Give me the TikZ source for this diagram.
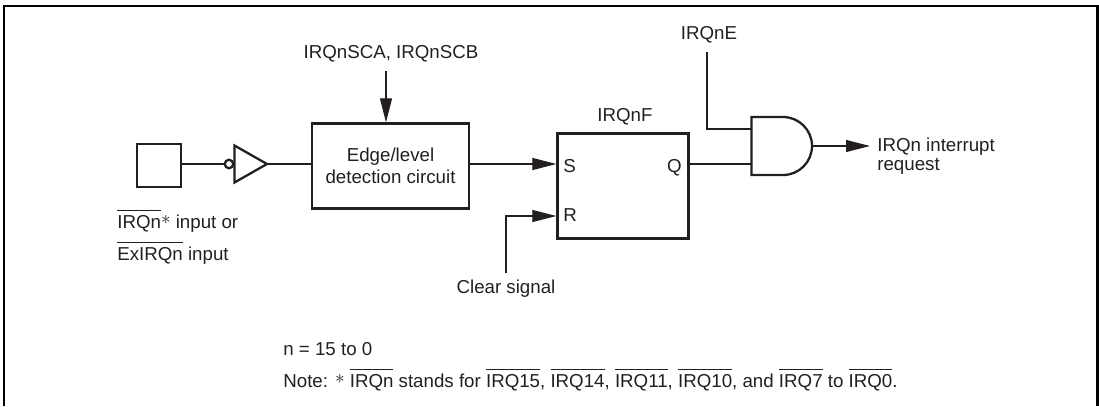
\documentclass[tikz,border=0pt]{standalone}
\usepackage{fontspec}
\setmainfont{Liberation Sans}
\usetikzlibrary{arrows.meta, positioning, calc, shapes.geometric}
\definecolor{irqink}{HTML}{231F20}
\newcommand{\ovl}[1]{$\overline{\hbox{\rule{0pt}{8.4pt}#1}}$}
\newcommand{\astr}{\raisebox{2pt}{$\ast$}}
\tikzset{
  blockbox/.style={draw=irqink, line width=1.3pt, inner sep=0pt},
  wire/.style={draw=irqink, line width=.6pt},
  sigarrow/.style={wire, -{Triangle[length=.48cm, width=.24cm]}},
  lbl/.style={font=\fontsize{10.65}{12.5}\selectfont, text=irqink, inner sep=0pt}
}
\begin{document}
\begin{tikzpicture}[x=.02cm, y=-.02cm]
      \useasboundingbox (0,0) rectangle (1099,406);
      % frame
      \draw[black, line width=1.25pt] (4.2,406)--(4.2,5.8)--(1097.5,5.8)--(1097.5,406);
      % blocks
      \node[blockbox, minimum width=.88cm, minimum height=.86cm] (pad) at (159,165.5) {};
      \node[blockbox, minimum width=3.14cm, minimum height=1.7cm, align=center, lbl] (edge) at (390.5,166) {Edge/level\\detection circuit};
      \node[blockbox, minimum width=2.62cm, minimum height=2.1cm] (ff) at (623,186) {};
      \node[lbl, anchor=base west] (sin) at (563,172) {S};
      \node[lbl, anchor=base west] (rin) at (563,221) {R};
      \node[lbl, anchor=base east] (qout) at (682,172) {Q};
      % inverter
      \node[draw=irqink, line width=1.3pt, circle, minimum size=.17cm, inner sep=0pt] (bub) at (229,164) {};
      \coordinate (invout) at (267,164);
      \draw[irqink, line width=1.3pt] (234.5,145.5)--(invout)--(234.5,182.5)--cycle;
      % and gate
      \draw[irqink, line width=1.3pt] (783,117)--(751.5,117)--(751.5,175)--(783,175) arc (90:-90:29);
      \coordinate (andin1) at (751,129);
      \coordinate (andin2) at (751,164);
      \coordinate (andout) at (812,146);
      % free ends
      \coordinate (sigtop) at (386,71);
      \coordinate (clrend) at (506,273);
      \coordinate (enend) at (707,52);
      \coordinate (reqend) at (870,146);
      % connectors
      \draw[wire] (pad.east|-bub)--(bub);
      \draw[wire] (invout)--(edge.west|-invout);
      \draw[sigarrow] (edge.east|-bub)--(ff.west|-bub);
      \draw[sigarrow] (clrend)--(506,216)--(ff.west|-0,216);
      \draw[wire] (ff.east|-andin2)--(andin2);
      \draw[wire] (enend)--(707,129)--(andin1);
      \draw[sigarrow] (andout)--(reqend);
      \draw[sigarrow] (sigtop)--(sigtop|-edge.north);
      % labels
      \node[lbl, anchor=base] (scalbl) at (391,58) {IRQnSCA, IRQnSCB};
      \node[lbl, anchor=base] (elbl) at (709,39) {IRQnE};
      \node[lbl, anchor=base] (flbl) at (625,121) {IRQnF};
      \node[lbl, anchor=base west] (inlbl1) at (117,228) {\ovl{IRQn}\astr{} input or};
      \node[lbl, anchor=base west] (inlbl2) at (117,260) {\ovl{ExIRQn} input};
      \node[lbl, anchor=base] (clrlbl) at (506,293) {Clear signal};
      \node[lbl, anchor=base west] (outlbl1) at (877,151) {IRQn interrupt};
      \node[lbl, anchor=base west] (outlbl2) at (877,170) {request};
      \node[lbl, anchor=base west] (nlbl) at (283,355) {n = 15 to 0};
      \node[lbl, anchor=base west] (notelbl) at (283,387) {Note: \astr{} \ovl{IRQn} stands for \ovl{IRQ15}, \ovl{IRQ14}, \ovl{IRQ11}, \ovl{IRQ10}, and \ovl{IRQ7} to \ovl{IRQ0}.};
    \end{tikzpicture}
\end{document}
